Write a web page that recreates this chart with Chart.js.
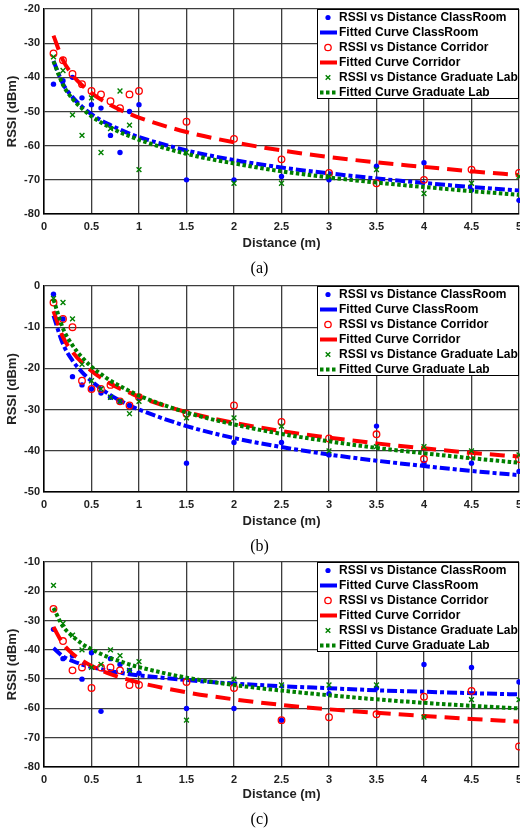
<!DOCTYPE html>
<html>
<head>
<meta charset="utf-8">
<script src="https://cdn.jsdelivr.net/npm/chart.js@4.4.0/dist/chart.umd.min.js"></script>
<style>
  body { margin: 0; background: #fff; width: 520px; }
  canvas { display: block; }
</style>
</head>
<body>
<canvas id="chartA" width="520" height="278"></canvas>
<canvas id="chartB" width="520" height="278"></canvas>
<canvas id="chartC" width="520" height="273"></canvas>
<script>
// distances (m), shared by the measurements and the fitted curves
const distance = [0.1, 0.2, 0.3, 0.4, 0.5, 0.6, 0.7, 0.8, 0.9, 1, 1.5, 2, 2.5, 3, 3.5, 4, 4.5, 5];

// (a)
const classA = [-42, -41, -40, -46, -48, -49, -57, -62, -50, -48, -70, -70, -69, -70, -66, -65, -73, -76];
const corrA  = [-33, -35, -39, -42, -44, -45, -47, -49, -45, -44, -53, -58, -64, -68, -71, -70, -67, -68];
const labA   = [-34, -38, -51, -57, -46, -62, -55, -44, -54, -67, -62, -71, -71, -69, -67, -74, -71, -69];
const fitClassA = [-35.2, -41.9, -45.8, -48.6, -50.8, -52.6, -54.0, -55.3, -56.5, -57.5, -61.4, -64.2, -66.4, -68.1, -69.6, -70.9, -72.1, -73.1];
const fitCorrA  = [-27.8, -35.0, -39.3, -42.3, -44.6, -46.5, -48.1, -49.5, -50.7, -51.8, -56.0, -59.0, -61.4, -63.3, -64.9, -66.2, -67.5, -68.6];
const fitLabA   = [-35.3, -42.2, -46.3, -49.1, -51.4, -53.2, -54.7, -56.1, -57.2, -58.3, -62.4, -65.2, -67.5, -69.3, -70.8, -72.1, -73.3, -74.4];

// (b)
const classB = [-2, -8, -22, -24, -25, -26, -27, -28, -29, -27, -43, -38, -38, -41, -34, -43, -43, -45];
const corrB  = [-4, -8, -10, -23, -25, -25, -24, -28, -29, -27, -31, -29, -33, -37, -36, -42, -41, -42];
const labB   = [-3, -4, -8, -19, -23, -25, -27, -28, -31, -28, -32, -32, -34, -40, -39, -39, -40, -41];
const fitClassB = [-7.2, -14.1, -18.1, -20.9, -23.1, -24.9, -26.5, -27.8, -29.0, -30.0, -34.0, -36.9, -39.1, -40.9, -42.4, -43.7, -44.9, -45.9];
const fitCorrB  = [-6.1, -12.4, -16.0, -18.6, -20.6, -22.3, -23.7, -24.9, -25.9, -26.9, -30.6, -33.2, -35.2, -36.8, -38.2, -39.4, -40.5, -41.4];
const fitLabB   = [-3.3, -10.3, -14.4, -17.3, -19.6, -21.4, -23.0, -24.3, -25.5, -26.6, -30.7, -33.6, -35.9, -37.7, -39.3, -40.6, -41.8, -42.9];

// (c)
const classC = [-33, -43, -42, -50, -41, -61, -43, -45, -47, -48, -60, -60, -64, -55, -53, -45, -46, -51];
const corrC  = [-26, -37, -47, -46, -53, -46, -46, -47, -52, -52, -51, -53, -64, -63, -62, -56, -54, -73];
const labC   = [-18, -31, -35, -40, -46, -45, -40, -42, -47, -44, -64, -50, -52, -52, -52, -63, -57, -57];
const fitClassC = [-39.4, -42.2, -43.8, -45.0, -45.9, -46.6, -47.3, -47.8, -48.3, -48.7, -50.3, -51.5, -52.4, -53.1, -53.8, -54.3, -54.8, -55.2];
const fitCorrC  = [-32.2, -37.9, -41.3, -43.6, -45.5, -47.0, -48.3, -49.4, -50.3, -51.2, -54.5, -56.9, -58.8, -60.3, -61.5, -62.6, -63.6, -64.5];
const fitLabC   = [-25.7, -32.0, -35.3, -37.9, -39.8, -41.4, -42.8, -43.9, -45.0, -45.9, -49.5, -52.0, -53.9, -55.5, -56.9, -58.1, -59.1, -60.0];

const legendLabels = [
  "RSSI vs Distance ClassRoom",
  "Fitted Curve ClassRoom",
  "RSSI vs Distance Corridor",
  "Fitted Curve Corridor",
  "RSSI vs Distance Graduate Lab",
  "Fitted Curve Graduate Lab"
];

const BLUE = "#0000ff";
const RED = "#ff0000";
const GREEN = "#008000";
const GRID = "rgba(40,40,40,0.9)";
const SANS = "'Liberation Sans', Arial, sans-serif";

Chart.defaults.font.family = SANS;

const pts = ys => distance.map((x, i) => ({ x: x, y: ys[i] }));

// legend box drawn inside the plot, top right
const boxLegend = {
  id: "boxLegend",
  afterDraw(chart) {
    const ctx = chart.ctx;
    const area = chart.chartArea;
    const left = 317, top = area.top, w = area.right - left, h = 90;
    ctx.save();
    ctx.fillStyle = "#fff";
    ctx.fillRect(left, top, w, h);
    ctx.strokeStyle = "#000";
    ctx.lineWidth = 1;
    ctx.strokeRect(left + 0.5, top + 0.5, w - 1, h - 1);

    ctx.font = "bold 12px " + SANS;
    ctx.textBaseline = "middle";
    ctx.fillStyle = "#000";
    const mx = 328;
    legendLabels.forEach((txt, i) => {
      const y = top + 8.5 + i * 15;
      ctx.setLineDash([]);
      if (i === 0) {
        ctx.fillStyle = BLUE;
        ctx.beginPath(); ctx.arc(mx, y, 2.6, 0, Math.PI * 2); ctx.fill();
      } else if (i === 2) {
        ctx.strokeStyle = RED; ctx.lineWidth = 1.3;
        ctx.beginPath(); ctx.arc(mx, y, 3.2, 0, Math.PI * 2); ctx.stroke();
      } else if (i === 4) {
        ctx.strokeStyle = GREEN; ctx.lineWidth = 1.4;
        ctx.beginPath();
        ctx.moveTo(mx - 2.3, y - 2.3); ctx.lineTo(mx + 2.3, y + 2.3);
        ctx.moveTo(mx - 2.3, y + 2.3); ctx.lineTo(mx + 2.3, y - 2.3);
        ctx.stroke();
      } else {
        ctx.strokeStyle = i === 1 ? BLUE : (i === 3 ? RED : GREEN);
        ctx.lineWidth = 4;
        if (i === 5) ctx.setLineDash([3.5, 2.5]);
        ctx.beginPath(); ctx.moveTo(320, y); ctx.lineTo(337, y); ctx.stroke();
      }
      ctx.setLineDash([]);
      ctx.fillStyle = "#000";
      ctx.fillText(txt, 339, y + 0.5);
    });
    ctx.restore();
  }
};

function buildChart(id, series, yMin, yMax, letter, padTop, xHeight) {
  const [cls, fitCls, corr, fitCorr, lab, fitLab] = series;
  return new Chart(document.getElementById(id), {
    type: "scatter",
    data: {
      datasets: [
        { data: pts(cls), showLine: false, pointStyle: "circle", pointRadius: 2.7,
          pointBackgroundColor: BLUE, pointBorderWidth: 0, order: 6, clip: false },
        { data: pts(fitCls), showLine: true, borderColor: BLUE, borderWidth: 4,
          borderDash: [10, 3, 4, 3], pointRadius: 0, cubicInterpolationMode: "monotone", order: 5 },
        { data: pts(corr), showLine: false, pointStyle: "circle", pointRadius: 3.3,
          pointBackgroundColor: "rgba(0,0,0,0)", pointBorderColor: RED, pointBorderWidth: 1.3, order: 4, clip: false },
        { data: pts(fitCorr), showLine: true, borderColor: RED, borderWidth: 4,
          borderDash: [15, 8], pointRadius: 0, cubicInterpolationMode: "monotone", order: 3 },
        { data: pts(lab), showLine: false, pointStyle: "crossRot", pointRadius: 3.4,
          pointBorderColor: GREEN, pointBorderWidth: 1.4, order: 2, clip: false },
        { data: pts(fitLab), showLine: true, borderColor: GREEN, borderWidth: 4,
          borderDash: [3.5, 2.5], pointRadius: 0, cubicInterpolationMode: "monotone", order: 1 }
      ]
    },
    options: {
      responsive: false,
      animation: false,
      events: [],
      layout: { autoPadding: false, padding: { top: padTop, left: 0, right: 1, bottom: 0 } },
      plugins: {
        legend: { display: false },
        tooltip: { enabled: false },
        title: {
          display: true, position: "bottom", text: letter, color: "#000",
          font: { family: "'Liberation Serif', 'DejaVu Serif', serif", size: 16, weight: "normal" },
          padding: 0
        }
      },
      scales: {
        x: {
          type: "linear", min: 0, max: 5,
          ticks: { stepSize: 0.5, padding: 6, color: "#222", maxRotation: 0, autoSkip: false,
                   font: { size: 11, weight: "bold" }, callback: v => String(v) },
          grid: { color: GRID, lineWidth: 1.3, drawTicks: false },
          border: { color: "#000", width: 1.5 },
          title: { display: true, text: "Distance (m)", color: "#222",
                   font: { size: 13, weight: "bold" }, padding: { top: 0, bottom: 8 } },
          afterFit: s => { s.height = xHeight; s.paddingLeft = 0; s.paddingRight = 0; }
        },
        y: {
          min: yMin, max: yMax,
          ticks: { stepSize: 10, padding: 4, color: "#222", font: { size: 11, weight: "bold" } },
          grid: { color: GRID, lineWidth: 1.3, drawTicks: false },
          border: { color: "#000", width: 1.5 },
          title: { display: true, text: "RSSI (dBm)", color: "#222",
                   font: { size: 13, weight: "bold" }, padding: { top: 5, bottom: 0 } },
          afterFit: s => { s.width = 44; s.paddingTop = 0; s.paddingBottom = 0; }
        }
      }
    },
    plugins: [boxLegend]
  });
}

buildChart("chartA", [classA, fitClassA, corrA, fitCorrA, labA, fitLabA], -80, -20, "(a)", 9, 44.8);
buildChart("chartB", [classB, fitClassB, corrB, fitCorrB, labB, fitLabB], -50, 0, "(b)", 8, 44.8);
buildChart("chartC", [classC, fitClassC, corrC, fitCorrC, labC, fitLabC], -80, -10, "(c)", 6, 42.8);
</script>
</body>
</html>
